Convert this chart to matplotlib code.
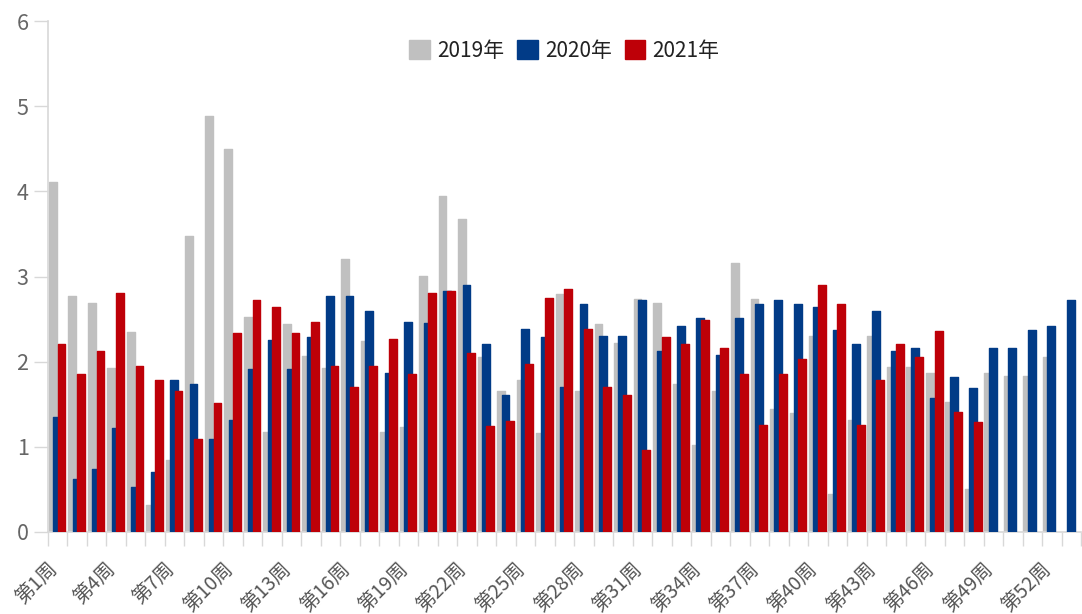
import numpy as np
import matplotlib
matplotlib.use("Agg")
import matplotlib.pyplot as plt
from matplotlib.patches import Patch

plt.rcParams['font.family'] = ['Noto Sans CJK SC', 'DejaVu Sans']

# weekly values (nan = no bar)
nan = np.nan
weeks = ['第%d周' % i for i in range(1, 54)]
v2019 = [4.11, 2.77, 2.69, 1.92, 2.35, 0.32, 0.84, 3.47, 4.88, 4.50,
         2.52, 1.18, 2.44, 2.07, 1.92, 3.21, 2.24, 1.18, 1.23, 3.01,
         3.94, 3.68, 2.05, 1.66, 1.79, 1.16, 2.80, 1.66, 2.44, 2.22,
         2.73, 2.69, 1.74, 1.02, 1.66, 3.16, 2.73, 1.45, 1.40, 2.30,
         0.45, 1.31, 2.30, 1.94, 1.94, 1.87, 1.53, 0.50, 1.87, 1.83,
         1.83, 2.05, nan]
v2020 = [1.35, 0.62, 0.745, 1.22, 0.53, 0.70, 1.78, 1.74, 1.09, 1.31,
         1.91, 2.25, 1.91, 2.29, 2.77, 2.77, 2.60, 1.87, 2.47, 2.45,
         2.83, 2.90, 2.21, 1.61, 2.38, 2.29, 1.70, 2.68, 2.30, 2.30,
         2.72, 2.12, 2.42, 2.51, 2.08, 2.51, 2.68, 2.72, 2.68, 2.64,
         2.37, 2.21, 2.60, 2.12, 2.16, 1.57, 1.82, 1.69, 2.16, 2.16,
         2.37, 2.42, 2.72]
v2021 = [2.21, 1.86, 2.12, 2.81, 1.95, 1.78, 1.65, 1.09, 1.52, 2.34,
         2.72, 2.64, 2.34, 2.47, 1.95, 1.70, 1.95, 2.27, 1.86, 2.81,
         2.83, 2.10, 1.24, 1.30, 1.97, 2.75, 2.85, 2.38, 1.70, 1.61,
         0.96, 2.29, 2.21, 2.49, 2.16, 1.86, 1.26, 1.86, 2.03, 2.90,
         2.68, 1.26, 1.78, 2.21, 2.06, 2.36, 1.41, 1.29, nan, nan,
         nan, nan, nan]
series = ['2019年', '2020年', '2021年']
colors = ['#c0c0c0', '#013b87', '#be0008']

fig = plt.figure(figsize=(10.82, 6.14), dpi=100)
ax = fig.add_axes([48/1082, 1-532/614, 1033/1082, 511/614])

x = np.arange(len(weeks))
w = 0.4
offs = [-0.255, -0.03, 0.195]
for k, vals in enumerate([v2019, v2020, v2021]):
    ax.bar(x + offs[k], vals, width=w, color=colors[k], edgecolor=colors[k],
           linewidth=1.0, joinstyle='round', zorder=2 + k)

ax.set_xlim(-0.5, len(weeks) - 0.5)
ax.set_ylim(0, 6)
ax.set_yticks(range(0, 7))

ax.set_xticks(x[::3])
ax.set_xticklabels(weeks[::3], rotation=45, ha='right', va='baseline',
                   rotation_mode='anchor', fontsize=14, color='#555555',
                   fontweight='light')
ax.set_xticks(np.arange(-0.5, len(weeks)), minor=True)
ax.tick_params(axis='x', which='major', length=0, pad=27)
ax.tick_params(axis='x', which='minor', length=10, color='#d8d8d8', width=1)
ax.tick_params(axis='y', length=10, color='#d8d8d8', width=1,
               labelsize=15.5, labelcolor='#666666', pad=4)
for t in ax.get_yticklabels():
    t.set_fontweight('light')

for s in ['top', 'right']:
    ax.spines[s].set_visible(False)
for s in ['left', 'bottom']:
    ax.spines[s].set_color('#d8d8d8')
    ax.spines[s].set_linewidth(1.2)

handles = [Patch(facecolor=c, edgecolor=c, label=l) for c, l in zip(colors, series)]
leg = ax.legend(handles=handles, loc='upper center', bbox_to_anchor=(0.5, 1.0),
                ncol=3, frameon=False, fontsize=15, handlelength=1.0,
                handleheight=1.0, handletextpad=0.35, columnspacing=0.6)
for t in leg.get_texts():
    t.set_color('#222222')

fig.savefig('out.png', dpi=100)
